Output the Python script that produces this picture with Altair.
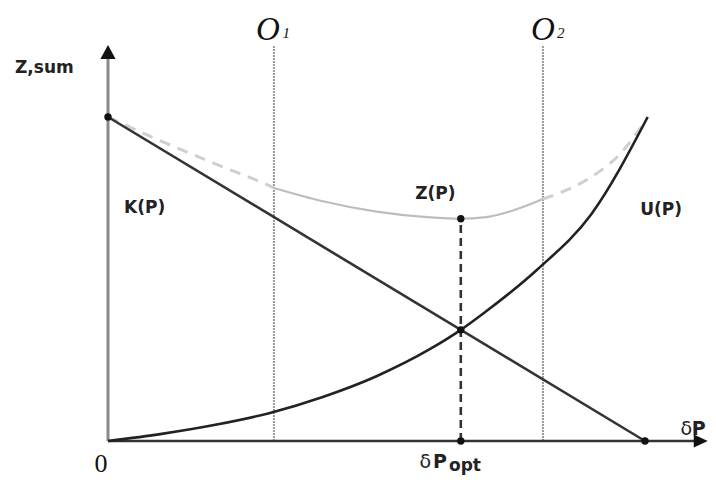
import altair as alt
import pandas as pd

# ---- values (schematic units) ----
k_x = [0.0, 10.0]
k_y = [10.0, 0.0]

u_x = [0, 1, 2, 3, 4, 5, 6, 6.57, 7, 8, 9, 10.05]
u_y = [0, 0.22, 0.50, 0.86, 1.36, 2.0, 2.84, 3.43, 3.95, 5.3, 7.0, 10.0]

z_x = [0, 1, 2, 3, 3.09, 4, 5, 6, 6.57, 7, 8, 8.1, 9, 9.5, 9.98]
z_y = [10.0, 9.25, 8.55, 7.88, 7.81, 7.4, 7.08, 6.9, 6.86, 6.9, 7.4, 7.47, 8.15, 8.8, 9.8]

o1_x = 3.09
o2_x = 8.10
o_top = 12.2
x_opt = 6.57
z_opt = 6.86
cross_y = 3.43
k_end = 10.0
axis_x_end = 11.1
axis_y_end = 11.9

W, H = 700, 471
xs = alt.Scale(domain=[-1.862, (W - 100) / 53.7], nice=False, zero=False)
ys = alt.Scale(domain=[(433 - H) / 32.4, 433 / 32.4], nice=False, zero=False)


def X(f="x"):
    return alt.X(f"{f}:Q", scale=xs, axis=None)


def Y(f="y"):
    return alt.Y(f"{f}:Q", scale=ys, axis=None)


# ---- tables ----
k_df = pd.DataFrame({"x": k_x, "y": k_y})
u_df = pd.DataFrame({"x": u_x, "y": u_y})
z_df = pd.DataFrame({"x": z_x, "y": z_y})
z_left = z_df[z_df.x <= o1_x]
z_mid = z_df[(z_df.x >= o1_x) & (z_df.x <= o2_x)]
z_right = z_df[z_df.x >= o2_x]

o_df = pd.DataFrame({"x": [o1_x, o2_x], "y": [0, 0], "y2": [o_top, o_top]})
yaxis_df = pd.DataFrame({"x": [0], "y": [0], "y2": [axis_y_end]})
xaxis_df = pd.DataFrame({"x": [0], "x2": [axis_x_end], "y": [0]})
opt_df = pd.DataFrame({"x": [x_opt], "y": [0], "y2": [z_opt]})
dots_df = pd.DataFrame({"x": [0, x_opt, x_opt, x_opt, k_end],
                        "y": [10.0, z_opt, cross_y, 0, 0]})

o_lines = alt.Chart(o_df).mark_rule(color="#9a9a9a", strokeWidth=2, strokeDash=[2, 1]).encode(
    x=X(), y=Y(), y2="y2:Q")
y_axis = alt.Chart(yaxis_df).mark_rule(color="#8a8a8a", strokeWidth=3).encode(
    x=X(), y=Y(), y2="y2:Q")
x_axis = alt.Chart(xaxis_df).mark_rule(color="#333333", strokeWidth=2.5).encode(
    x=X(), x2="x2:Q", y=Y())

z_l = alt.Chart(z_left).mark_line(color="#cfcfcf", strokeWidth=3, strokeDash=[11, 8],
                                  interpolate="monotone").encode(x=X(), y=Y())
z_m = alt.Chart(z_mid).mark_line(color="#bdbdbd", strokeWidth=2.2,
                                 interpolate="monotone").encode(x=X(), y=Y())
z_r = alt.Chart(z_right).mark_line(color="#cfcfcf", strokeWidth=3, strokeDash=[11, 8],
                                   interpolate="monotone").encode(x=X(), y=Y())

k_line = alt.Chart(k_df).mark_line(color="#333333", strokeWidth=2.6).encode(x=X(), y=Y())
u_line = alt.Chart(u_df).mark_line(color="#222222", strokeWidth=2.6,
                                   interpolate="monotone").encode(x=X(), y=Y())

opt_line = alt.Chart(opt_df).mark_rule(color="#333333", strokeWidth=2.6, strokeDash=[8, 5]).encode(
    x=X(), y=Y(), y2="y2:Q")

dots = alt.Chart(dots_df).mark_point(filled=True, color="#111111", size=55, opacity=1).encode(
    x=X(), y=Y())

arrow_up = alt.Chart(pd.DataFrame({"x": [0], "y": [11.975]})).mark_point(
    shape="M0,-1 L0.95,0.75 L-0.95,0.75 Z", filled=True, color="#111111", size=256, opacity=1
).encode(x=X(), y=Y())
arrow_right = alt.Chart(pd.DataFrame({"x": [11.02], "y": [0]})).mark_point(
    shape="M1,0 L-0.75,0.8 L-0.75,-0.8 Z", filled=True, color="#111111", size=256, opacity=1
).encode(x=X(), y=Y())


def label(text, x, y, size, font="DejaVu Sans", weight="bold", style="normal",
          align="left", color="#222222"):
    return alt.Chart(pd.DataFrame({"x": [x], "y": [y], "t": [text]})).mark_text(
        font=font, fontSize=size, fontWeight=weight, fontStyle=style, align=align,
        baseline="alphabetic", color=color
    ).encode(x=X(), y=Y(), text="t:N")


labels = [
    label("Z,sum", -1.732, 11.35, 17),
    label("K(P)", 0.30, 7.05, 17),
    label("Z(P)", 5.72, 7.48, 17),
    label("U(P)", 9.91, 6.98, 17),
    label("0", -0.13, -0.96, 26, font="Liberation Serif", weight="normal", align="center",
          color="#111111"),
    label("δ", 10.66, 0.185, 19, weight="normal"),
    label("P", 10.87, 0.185, 19),
    label("δ", x_opt - 0.77, -0.84, 19, weight="normal"),
    label("P", x_opt - 0.52, -0.84, 19),
    label("opt", x_opt - 0.22, -0.93, 17),
    label("O", o1_x - 0.11, 12.38, 33, font="Liberation Serif", weight="normal",
          style="italic", align="center", color="#111111"),
    label("1", o1_x + 0.16, 12.44, 15, font="Liberation Serif", weight="normal",
          style="italic", color="#111111"),
    label("O", o2_x - 0.0, 12.38, 33, font="Liberation Serif", weight="normal",
          style="italic", align="center", color="#111111"),
    label("2", o2_x + 0.26, 12.44, 15, font="Liberation Serif", weight="normal",
          style="italic", color="#111111"),
]

chart = alt.layer(
    o_lines, y_axis, x_axis, z_l, z_m, z_r, k_line, u_line, opt_line, dots,
    arrow_up, arrow_right, *labels
).properties(
    width=W, height=H, padding=0, autosize=alt.AutoSizeParams(type="none"),
    background="white"
).configure_view(stroke=None)

chart.save("out.html", embed_options={"renderer": "svg", "actions": False})
